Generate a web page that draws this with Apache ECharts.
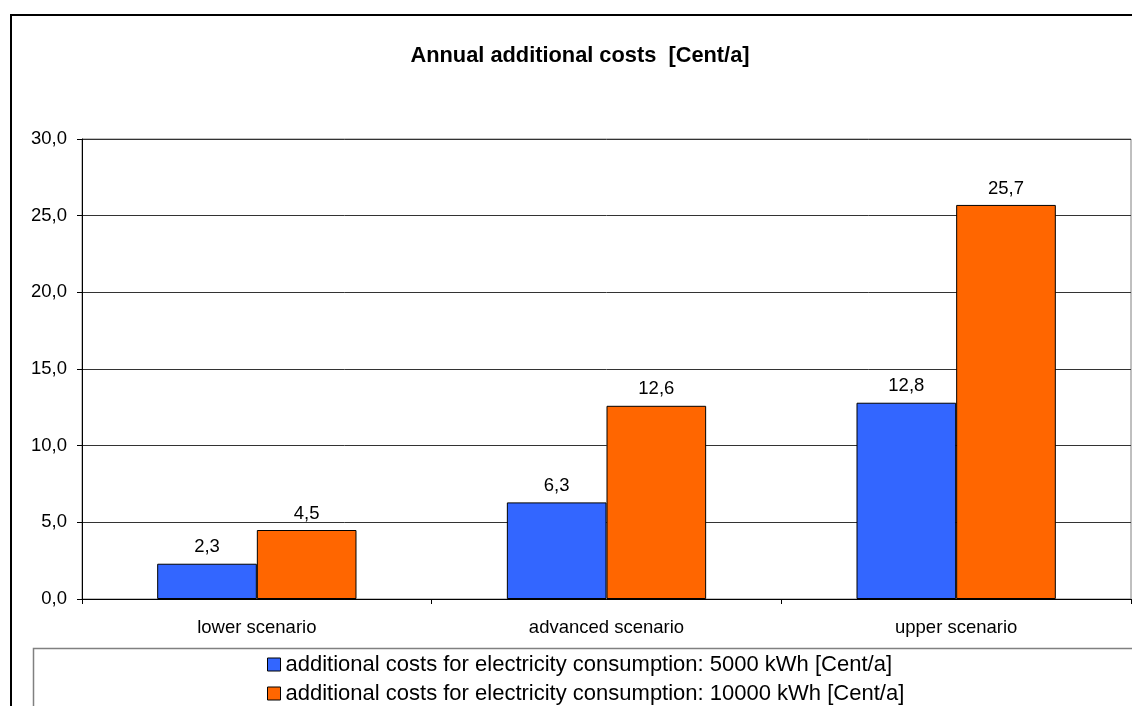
<!DOCTYPE html>
<html>
<head>
<meta charset="utf-8">
<script src="https://cdn.jsdelivr.net/npm/echarts@6/dist/echarts.min.js"></script>
<style>
html,body{margin:0;padding:0;background:#fff;}
#chart{width:1132px;height:706px;}
</style>
</head>
<body>
<div id="chart"></div>
<script>
const categories = ['lower scenario', 'advanced scenario', 'upper scenario'];
const series5000 = [2.3, 6.3, 12.8];
const series10000 = [4.5, 12.6, 25.7];
const seriesNames = [
  'additional costs for electricity consumption: 5000 kWh [Cent/a]',
  'additional costs for electricity consumption: 10000 kWh [Cent/a]'
];
const titleText = 'Annual additional costs  [Cent/a]';

const FONT = 'Arial, "Liberation Sans", sans-serif';
const fmt = v => v.toFixed(1).replace('.', ',');
const AX = 18.5;

const chart = echarts.init(document.getElementById('chart'), null, {renderer: 'canvas'});
chart.setOption({
  animation: false,
  backgroundColor: '#fff',
  textStyle: {fontFamily: FONT},
  title: {
    text: titleText,
    left: 575, top: 40, textAlign: 'center',
    textStyle: {fontFamily: FONT, fontSize: 21.8, fontWeight: 'bold', color: '#000'}
  },
  graphic: [
    {type: 'rect', shape: {x: 11, y: 15, width: 1200, height: 800},
     style: {fill: null, stroke: '#000', lineWidth: 2}, z: 100, silent: true},
    {type: 'rect', shape: {x: 33.5, y: 648.5, width: 1200, height: 100},
     style: {fill: null, stroke: '#808080', lineWidth: 1.5}, z: 100, silent: true}
  ],
  legend: {
    orient: 'vertical',
    left: 267, top: 653.5, height: 80,
    padding: 0,
    itemWidth: 13, itemHeight: 13, itemGap: 7,
    icon: 'rect',
    itemStyle: {borderColor: '#000', borderWidth: 1},
    textStyle: {fontFamily: FONT, fontSize: 22, color: '#000'},
    data: seriesNames
  },
  grid: {
    left: 82, top: 139, right: 1, bottom: 107,
    show: true, borderColor: '#808080', borderWidth: 1, backgroundColor: 'transparent'
  },
  xAxis: {
    type: 'category',
    data: categories,
    axisLine: {lineStyle: {color: '#000', width: 1}},
    axisTick: {show: true, length: 5, lineStyle: {color: '#000'}},
    axisLabel: {fontFamily: FONT, fontSize: AX, color: '#000', margin: 19}
  },
  yAxis: {
    type: 'value',
    min: 0, max: 30, interval: 5,
    axisLine: {show: true, lineStyle: {color: '#000', width: 1}},
    axisTick: {show: true, length: 5, lineStyle: {color: '#000'}},
    axisLabel: {fontFamily: FONT, fontSize: AX, color: '#000', margin: 15, formatter: v => fmt(v)},
    splitLine: {show: true, lineStyle: {color: '#333', width: 1}}
  },
  series: [
    {
      name: seriesNames[0], type: 'bar', data: series5000,
      barGap: '0%', barCategoryGap: '43%',
      itemStyle: {color: '#3366FF', borderColor: '#000', borderWidth: 1},
      label: {show: true, position: 'top', distance: 7, fontFamily: FONT, fontSize: AX, color: '#000',
              formatter: p => fmt(p.value)}
    },
    {
      name: seriesNames[1], type: 'bar', data: series10000,
      barGap: '0%', barCategoryGap: '43%',
      itemStyle: {color: '#FF6600', borderColor: '#000', borderWidth: 1},
      label: {show: true, position: 'top', distance: 7, fontFamily: FONT, fontSize: AX, color: '#000',
              formatter: p => fmt(p.value)}
    }
  ]
});
</script>
</body>
</html>
